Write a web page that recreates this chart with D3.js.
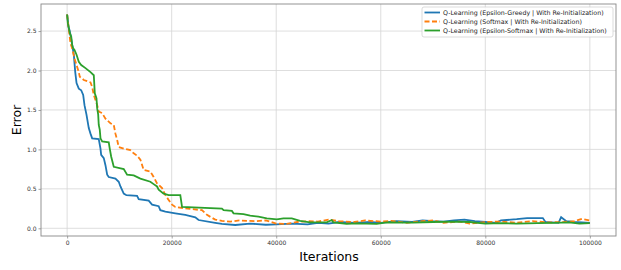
<!DOCTYPE html>
<html>
<head>
<meta charset="utf-8">
<script src="https://cdn.jsdelivr.net/npm/d3@7"></script>
<style>
  body { margin: 0; background: #fff; }
  text { font-family: "DejaVu Sans", sans-serif; }
</style>
</head>
<body>
<script>
// values (iteration, error)
var seriesNames = [
    "Q-Learning (Epsilon-Greedy | With Re-Initialization)",
    "Q-Learning (Softmax | With Re-Initialization)",
    "Q-Learning (Epsilon-Softmax | With Re-Initialization)"
];

var greedy = [
    [0, 2.71], [270, 2.55], [460, 2.51], [650, 2.45], [1280, 2.20], [1550, 1.98],
    [1800, 1.84], [2230, 1.77], [2690, 1.75], [3070, 1.69], [3320, 1.56], [3700, 1.44],
    [4140, 1.27], [4470, 1.20], [4790, 1.14], [6050, 1.13], [6380, 1.01], [6510, 0.93],
    [7010, 0.89], [7330, 0.80], [7660, 0.68], [7960, 0.65], [9240, 0.63], [9870, 0.59],
    [10200, 0.53], [10830, 0.44], [11340, 0.42], [13380, 0.41], [13690, 0.37], [15600, 0.35],
    [16250, 0.30], [17510, 0.28], [17830, 0.23], [18790, 0.21], [20700, 0.19], [22600, 0.17],
    [24520, 0.14], [25150, 0.105], [28330, 0.07], [29610, 0.055], [32150, 0.042], [35000, 0.06],
    [38000, 0.045], [40000, 0.05], [43000, 0.06], [46000, 0.05], [48000, 0.07], [50000, 0.06],
    [52000, 0.08], [55000, 0.07], [58000, 0.08], [60000, 0.07], [63000, 0.09], [66000, 0.08],
    [68000, 0.10], [70000, 0.09], [72000, 0.085], [74000, 0.10], [76000, 0.11], [78000, 0.09],
    [80000, 0.08], [82000, 0.07], [83000, 0.10], [86000, 0.115], [88000, 0.13], [91000, 0.13],
    [91500, 0.08], [94000, 0.07], [94500, 0.14], [95500, 0.09], [97000, 0.08], [100000, 0.07]
];

var softmax = [
    [0, 2.71], [270, 2.55], [650, 2.34], [970, 2.28], [1410, 2.15], [1800, 2.07],
    [2230, 1.98], [2420, 1.92], [3190, 1.88], [4470, 1.85], [4790, 1.79], [5100, 1.69],
    [5750, 1.56], [6050, 1.48], [6700, 1.46], [7330, 1.39], [8290, 1.33], [8920, 1.31],
    [9240, 1.20], [9570, 1.12], [9870, 1.03], [10830, 1.01], [12100, 0.99], [12740, 0.95],
    [13380, 0.92], [14010, 0.87], [14640, 0.74], [15920, 0.72], [16550, 0.65], [17200, 0.57],
    [18160, 0.51], [18790, 0.42], [19420, 0.36], [20070, 0.30], [20700, 0.27], [23560, 0.245],
    [25790, 0.23], [26750, 0.17], [28330, 0.11], [29610, 0.095], [31200, 0.085], [33000, 0.10],
    [36000, 0.09], [38000, 0.10], [40000, 0.06], [42000, 0.055], [44000, 0.08], [46000, 0.09],
    [48000, 0.085], [50000, 0.11], [52000, 0.09], [55000, 0.08], [57000, 0.10], [60000, 0.085],
    [62000, 0.095], [65000, 0.07], [68000, 0.09], [70000, 0.10], [72000, 0.07], [75000, 0.085],
    [77000, 0.06], [80000, 0.08], [83000, 0.085], [86000, 0.07], [89000, 0.09], [92000, 0.075],
    [95000, 0.08], [97000, 0.09], [98500, 0.12], [100000, 0.10]
];

var epsSoftmax = [
    [0, 2.71], [130, 2.60], [520, 2.47], [780, 2.43], [970, 2.32], [1160, 2.28],
    [1410, 2.26], [1800, 2.20], [2230, 2.11], [2690, 2.07], [3510, 2.03], [4470, 1.98],
    [5100, 1.94], [5290, 1.71], [5610, 1.65], [5750, 1.52], [5940, 1.44], [6050, 1.31],
    [6240, 1.25], [6380, 1.14], [6700, 1.10], [7960, 1.09], [8150, 1.01], [8420, 0.91],
    [8920, 0.78], [10830, 0.75], [11470, 0.68], [12740, 0.67], [14010, 0.63], [15920, 0.59],
    [16550, 0.56], [17200, 0.53], [17510, 0.49], [18460, 0.44], [19420, 0.42], [21650, 0.42],
    [21980, 0.27], [29610, 0.25], [29930, 0.23], [31520, 0.22], [31830, 0.19], [33740, 0.18],
    [35020, 0.16], [36600, 0.147], [38200, 0.127], [40110, 0.114], [41380, 0.127], [42980, 0.127],
    [44560, 0.093], [46470, 0.076], [49660, 0.076], [50620, 0.105], [50920, 0.076], [53480, 0.055],
    [55390, 0.063], [59210, 0.055], [61120, 0.076], [66140, 0.071], [70000, 0.08], [74000, 0.085],
    [77000, 0.08], [80000, 0.06], [83000, 0.065], [86000, 0.06], [90000, 0.065], [93000, 0.07],
    [96000, 0.075], [98000, 0.06], [100000, 0.065]
];

var xTicks = [0, 20000, 40000, 60000, 80000, 100000];
var yTicks = [0.0, 0.5, 1.0, 1.5, 2.0, 2.5];
var colors = ["#1f77b4", "#ff7f0e", "#2ca02c"];

var width = 621, height = 270;
var plotLeft = 41, plotRight = 616, plotTop = 4, plotBottom = 236;

var svg = d3.select("body")
    .append("svg")
    .attr("width", width)
    .attr("height", height);

var x = d3.scaleLinear()
    .domain([-5000, 105000])
    .range([plotLeft, plotRight]);

var y = d3.scaleLinear()
    .domain([-0.0976, 2.843])
    .range([plotBottom, plotTop]);

// grid
svg.append("g")
    .selectAll("line")
    .data(xTicks)
    .enter()
    .append("line")
    .attr("x1", function (d) { return x(d); })
    .attr("x2", function (d) { return x(d); })
    .attr("y1", plotTop)
    .attr("y2", plotBottom)
    .attr("stroke", "#d6d6d6")
    .attr("stroke-width", 0.8);

svg.append("g")
    .selectAll("line")
    .data(yTicks)
    .enter()
    .append("line")
    .attr("x1", plotLeft)
    .attr("x2", plotRight)
    .attr("y1", function (d) { return y(d); })
    .attr("y2", function (d) { return y(d); })
    .attr("stroke", "#d6d6d6")
    .attr("stroke-width", 0.8);

// axes
var xAxis = d3.axisBottom(x).tickValues(xTicks).tickSize(2.5).tickPadding(2).tickFormat(d3.format("d"));
var yAxis = d3.axisLeft(y).tickValues(yTicks).tickSize(2.5).tickPadding(2).tickFormat(d3.format(".1f"));

var gx = svg.append("g")
    .attr("transform", "translate(0," + plotBottom + ")")
    .call(xAxis);

var gy = svg.append("g")
    .attr("transform", "translate(" + plotLeft + ",0)")
    .call(yAxis);

[gx, gy].forEach(function (g) {
    g.select(".domain").remove();
    g.selectAll(".tick line").attr("stroke", "#666").attr("stroke-width", 0.6);
    g.selectAll(".tick text")
        .attr("fill", "#333")
        .style("font-size", "6px");
});

// frame
svg.append("rect")
    .attr("x", plotLeft)
    .attr("y", plotTop)
    .attr("width", plotRight - plotLeft)
    .attr("height", plotBottom - plotTop)
    .attr("fill", "none")
    .attr("stroke", "#888")
    .attr("stroke-width", 0.9);

// lines
var line = d3.line()
    .x(function (d) { return x(d[0]); })
    .y(function (d) { return y(d[1]); });

[greedy, softmax, epsSoftmax].forEach(function (s, i) {
    svg.append("path")
        .datum(s)
        .attr("d", line)
        .attr("fill", "none")
        .attr("stroke", colors[i])
        .attr("stroke-width", 1.8)
        .attr("stroke-dasharray", i === 1 ? "5,2.5" : null);
});

// labels
svg.append("text")
    .attr("transform", "translate(21,120) rotate(-90)")
    .style("text-anchor", "middle")
    .style("font-size", "12.5px")
    .attr("fill", "black")
    .text("Error");

svg.append("text")
    .attr("transform", "translate(329,261)")
    .style("text-anchor", "middle")
    .style("font-size", "12.5px")
    .attr("fill", "black")
    .text("Iterations");

// legend
var legend = svg.append("g");

legend.append("rect")
    .attr("x", 422)
    .attr("y", 7)
    .attr("width", 191)
    .attr("height", 30)
    .attr("rx", 2)
    .attr("fill", "white")
    .attr("fill-opacity", 0.85)
    .attr("stroke", "#ccc")
    .attr("stroke-width", 0.7);

seriesNames.forEach(function (name, i) {
    var ly = 12.5 + i * 9;
    legend.append("line")
        .attr("x1", 424.5)
        .attr("x2", 440)
        .attr("y1", ly)
        .attr("y2", ly)
        .attr("stroke", colors[i])
        .attr("stroke-width", 1.8)
        .attr("stroke-dasharray", i === 1 ? "5,2.5" : null);
    legend.append("text")
        .attr("x", 443)
        .attr("y", ly)
        .attr("dy", "0.35em")
        .style("font-size", "6.3px")
        .attr("fill", "#222")
        .text(name);
});
</script>
</body>
</html>
